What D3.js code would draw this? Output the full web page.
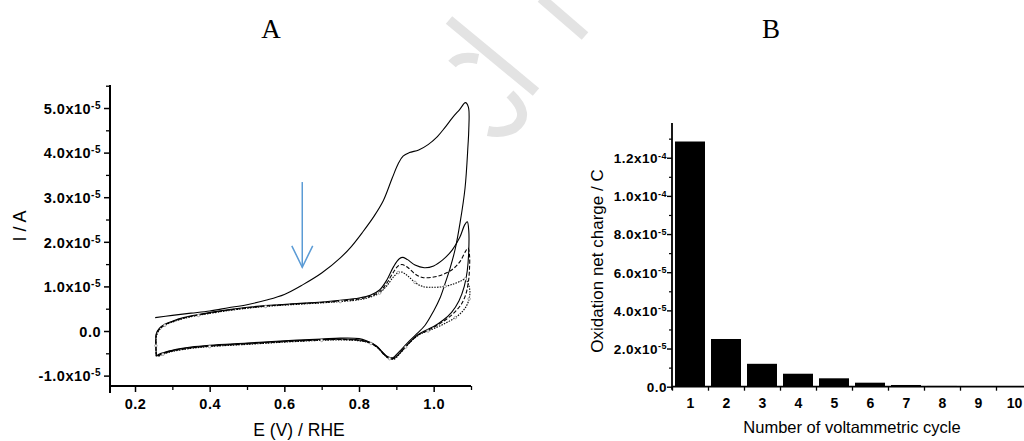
<!DOCTYPE html>
<html>
<head>
<meta charset="utf-8">
<script src="https://cdn.jsdelivr.net/npm/d3@7"></script>
<style>
    body { margin: 0; background: #fff; }
    svg { display: block; font-family: "Liberation Sans", Arial, sans-serif; }
</style>
</head>
<body>
<svg id="chart" width="1024" height="441"></svg>
<script>
// ---- panel A : cyclic voltammograms, E in V, I in units of 1e-5 A ----
var cycle1 = [
    [0.254, 0.30], [0.30, 0.35], [0.35, 0.40], [0.40, 0.45], [0.45, 0.52], [0.50, 0.59], [0.55, 0.69],
    [0.60, 0.82], [0.65, 1.04], [0.70, 1.30], [0.75, 1.64], [0.78, 1.90], [0.81, 2.22], [0.84, 2.57],
    [0.865, 2.92], [0.889, 3.43], [0.905, 3.75], [0.918, 3.92], [0.935, 4.00], [0.96, 4.06], [0.985, 4.18],
    [1.01, 4.36], [1.03, 4.56], [1.05, 4.78], [1.07, 4.97], [1.085, 5.12], [1.093, 5.02], [1.094, 4.5],
    [1.092, 4.17], [1.084, 3.2], [1.071, 2.44], [1.058, 1.85], [1.044, 1.41], [1.03, 1.05], [1.017, 0.74],
    [1.0, 0.45], [0.977, 0.13], [0.955, -0.06], [0.935, -0.22], [0.915, -0.4], [0.9, -0.53], [0.89, -0.6],
    [0.876, -0.57], [0.862, -0.46], [0.846, -0.33], [0.82, -0.22], [0.80, -0.17], [0.75, -0.16], [0.70, -0.18],
    [0.60, -0.22], [0.50, -0.27], [0.40, -0.32], [0.35, -0.36], [0.30, -0.43], [0.27, -0.5], [0.257, -0.56]
];
var cycle2 = [
    [0.257, -0.55], [0.256, -0.3], [0.257, -0.06], [0.265, 0.06], [0.28, 0.15], [0.30, 0.22], [0.33, 0.30],
    [0.37, 0.37], [0.42, 0.44], [0.48, 0.51], [0.55, 0.57], [0.62, 0.61], [0.70, 0.65], [0.75, 0.69],
    [0.80, 0.74], [0.83, 0.80], [0.855, 0.92], [0.875, 1.15], [0.893, 1.45], [0.908, 1.62], [0.918, 1.65],
    [0.93, 1.60], [0.95, 1.48], [0.975, 1.42], [1.0, 1.46], [1.025, 1.60], [1.05, 1.82], [1.07, 2.1],
    [1.083, 2.38], [1.09, 2.45], [1.094, 2.25], [1.094, 1.8], [1.09, 1.35], [1.082, 1.0], [1.068, 0.68],
    [1.048, 0.42], [1.025, 0.24], [1.0, 0.1], [0.975, 0.0], [0.955, -0.1], [0.935, -0.26], [0.915, -0.44],
    [0.9, -0.57], [0.89, -0.62], [0.878, -0.6], [0.864, -0.5], [0.85, -0.37], [0.83, -0.26], [0.80, -0.2],
    [0.75, -0.18], [0.70, -0.19], [0.60, -0.23], [0.50, -0.28], [0.40, -0.33], [0.35, -0.37], [0.30, -0.44],
    [0.275, -0.5], [0.26, -0.56]
];
var cycle3 = [
    [0.257, -0.56], [0.256, -0.32], [0.257, -0.08], [0.266, 0.05], [0.28, 0.14], [0.30, 0.21], [0.33, 0.29],
    [0.37, 0.36], [0.42, 0.43], [0.48, 0.50], [0.55, 0.56], [0.62, 0.60], [0.70, 0.64], [0.75, 0.67],
    [0.80, 0.72], [0.83, 0.78], [0.855, 0.88], [0.875, 1.08], [0.893, 1.33], [0.905, 1.46], [0.915, 1.49],
    [0.93, 1.43], [0.95, 1.28], [0.97, 1.2], [1.0, 1.21], [1.025, 1.27], [1.05, 1.38], [1.07, 1.55],
    [1.085, 1.78], [1.092, 1.86], [1.096, 1.7], [1.096, 1.4], [1.093, 1.1], [1.086, 0.82], [1.074, 0.6],
    [1.056, 0.42], [1.035, 0.27], [1.01, 0.13], [0.985, 0.02], [0.96, -0.08], [0.94, -0.22], [0.92, -0.4],
    [0.903, -0.55], [0.892, -0.62], [0.88, -0.61], [0.866, -0.52], [0.852, -0.39], [0.83, -0.27], [0.80, -0.21],
    [0.75, -0.19], [0.70, -0.2], [0.60, -0.24], [0.50, -0.29], [0.40, -0.34], [0.35, -0.38], [0.30, -0.45],
    [0.275, -0.51], [0.26, -0.57]
];
var cycle4 = [
    [0.257, -0.57], [0.256, -0.33], [0.258, -0.1], [0.267, 0.04], [0.28, 0.13], [0.30, 0.2], [0.33, 0.28],
    [0.37, 0.35], [0.42, 0.42], [0.48, 0.49], [0.55, 0.55], [0.62, 0.59], [0.70, 0.63], [0.75, 0.66],
    [0.80, 0.70], [0.83, 0.76], [0.855, 0.85], [0.875, 1.02], [0.893, 1.22], [0.905, 1.31], [0.915, 1.32],
    [0.93, 1.24], [0.95, 1.09], [0.97, 1.0], [1.0, 0.98], [1.03, 1.0], [1.055, 1.06], [1.075, 1.13],
    [1.085, 1.17], [1.093, 1.05], [1.097, 0.9], [1.095, 0.72], [1.087, 0.55], [1.075, 0.42], [1.058, 0.3],
    [1.035, 0.19], [1.01, 0.09], [0.985, 0.0], [0.962, -0.08], [0.943, -0.2], [0.925, -0.36], [0.907, -0.53],
    [0.894, -0.63], [0.882, -0.62], [0.868, -0.54], [0.854, -0.4], [0.832, -0.28], [0.80, -0.22], [0.75, -0.2],
    [0.70, -0.21], [0.60, -0.25], [0.50, -0.3], [0.40, -0.35], [0.35, -0.39], [0.30, -0.46], [0.275, -0.52],
    [0.26, -0.58]
];
var xTicksA = [0.2, 0.4, 0.6, 0.8, 1.0];
var xMinorA = [0.3, 0.5, 0.7, 0.9, 1.1];
var yTicksA = [-1, 0, 1, 2, 3, 4, 5];
var yMinorA = [-0.5, 0.5, 1.5, 2.5, 3.5, 4.5, 5.5];
var yLabelsA = [['-1.0x10', '-5'], ['0.0', ''], ['1.0x10', '-5'], ['2.0x10', '-5'], ['3.0x10', '-5'], ['4.0x10', '-5'], ['5.0x10', '-5']];
var arrowA = {e: 0.648, from: 3.34, to: 1.43, wing: 1.91, half: 0.028};

// ---- panel B : oxidation net charge per cycle, units of 1e-5 C ----
var cycles = [1, 2, 3, 4, 5, 6, 7, 8, 9, 10];
var charge = [12.85, 2.50, 1.20, 0.68, 0.44, 0.21, 0.09, 0.04, 0.012, 0.006];
var yTicksB = [0, 2, 4, 6, 8, 10, 12];
var yMinorB = [1, 3, 5, 7, 9, 11, 13];
var yLabelsB = [['0.0', ''], ['2.0x10', '-5'], ['4.0x10', '-5'], ['6.0x10', '-5'], ['8.0x10', '-5'], ['1.0x10', '-4'], ['1.2x10', '-4']];
var xEdgesB = [0.5, 1.5, 2.5, 3.5, 4.5, 5.5, 6.5, 7.5, 8.5, 9.5, 10.5];

var svg = d3.select('#chart');

// faint watermark fragments
var wm = svg.append('g').attr('fill', 'none').attr('stroke', '#e3e3e3').attr('stroke-width', 10);
wm.append('path').attr('d', 'M449,20 L536,92');
wm.append('path').attr('d', 'M452,64 Q460,55 478,59');
wm.append('path').attr('d', 'M510,94 Q532,115 514,128 Q502,134 488,131');
wm.append('path').attr('d', 'M541,-2 L585,36');

function styleAxis(g, w) {
    g.select('.domain').remove();
    g.selectAll('.tick line').attr('stroke', '#000').attr('stroke-width', w);
}

function yLabels(g, labels, size, supSize, dx) {
    g.selectAll('.tick text').remove();
    var t = g.selectAll('.tick').append('text')
        .attr('x', dx)
        .attr('dy', '0.36em')
        .attr('text-anchor', 'end')
        .attr('fill', '#000')
        .style('font-weight', 700)
        .style('font-size', size + 'px')
        .style('letter-spacing', '0.5px');
    t.append('tspan').text(function (d, i) { return labels[i][0]; });
    t.append('tspan').attr('dy', '-0.5em').style('font-size', supSize + 'px')
        .text(function (d, i) { return labels[i][1]; });
}

// ================= panel A =================
var xA = d3.scaleLinear().domain([0.133, 1.1]).range([110, 471]);
var yA = d3.scaleLinear().domain([-1.233, 5.516]).range([386, 85]);
var gA = svg.append('g');

var axA = gA.append('g').attr('transform', 'translate(0,' + yA.range()[0] + ')')
    .call(d3.axisBottom(xA).tickValues(xTicksA).tickSize(6).tickFormat(d3.format('.1f')));
styleAxis(axA, 1.5);
axA.selectAll('.tick text').attr('y', 13).attr('fill', '#000')
    .style('font-weight', 700).style('font-size', '14.5px').style('letter-spacing', '0.5px');
styleAxis(gA.append('g').attr('transform', 'translate(0,' + yA.range()[0] + ')')
    .call(d3.axisBottom(xA).tickValues(xMinorA).tickSize(4).tickFormat('')), 1.3);

var ayA = gA.append('g').attr('transform', 'translate(' + xA.range()[0] + ',0)')
    .call(d3.axisLeft(yA).tickValues(yTicksA).tickSize(6));
styleAxis(ayA, 1.5);
yLabels(ayA, yLabelsA, 14.5, 10, -9);
styleAxis(gA.append('g').attr('transform', 'translate(' + xA.range()[0] + ',0)')
    .call(d3.axisLeft(yA).tickValues(yMinorA).tickSize(4).tickFormat('')), 1.3);

gA.append('line').attr('x1', xA.range()[0]).attr('x2', xA.range()[1])
    .attr('y1', yA.range()[0]).attr('y2', yA.range()[0]).attr('stroke', '#000').attr('stroke-width', 2);
gA.append('line').attr('x1', xA.range()[0]).attr('x2', xA.range()[0])
    .attr('y1', yA.range()[1]).attr('y2', yA.range()[0] + 7).attr('stroke', '#000').attr('stroke-width', 2);

var lineA = d3.line().x(function (d) { return xA(d[0]); }).y(function (d) { return yA(d[1]); })
    .curve(d3.curveCatmullRom.alpha(0.5));

var curvesA = [
    {pts: cycle1, dash: null, w: 1.1},
    {pts: cycle2, dash: null, w: 1.1},
    {pts: cycle3, dash: '4,2', w: 1.1},
    {pts: cycle4, dash: '1.5,1.2', w: 1.1}
];
gA.selectAll('path.cv').data(curvesA).enter().append('path')
    .attr('class', 'cv')
    .attr('d', function (d) { return lineA(d.pts); })
    .attr('fill', 'none')
    .attr('stroke', '#000')
    .attr('stroke-width', function (d) { return d.w; })
    .attr('stroke-dasharray', function (d) { return d.dash; });

gA.selectAll('circle.mk').data(cycle4.filter(function (d, i) { return i % 3 === 1; })).enter()
    .append('circle').attr('class', 'mk')
    .attr('cx', function (d) { return xA(d[0]); })
    .attr('cy', function (d) { return yA(d[1]); })
    .attr('r', 1.3).attr('fill', '#fff').attr('stroke', '#777').attr('stroke-width', 0.6);

// blue arrow
var arrow = gA.append('g').attr('stroke', '#5b9bd5').attr('stroke-width', 1.5).attr('fill', 'none');
arrow.append('line').attr('x1', xA(arrowA.e)).attr('x2', xA(arrowA.e))
    .attr('y1', yA(arrowA.from)).attr('y2', yA(arrowA.to));
arrow.append('path').attr('d', d3.line()([
    [xA(arrowA.e - arrowA.half), yA(arrowA.wing)],
    [xA(arrowA.e), yA(arrowA.to)],
    [xA(arrowA.e + arrowA.half), yA(arrowA.wing)]
]));

gA.append('text').attr('x', 271).attr('y', 38).attr('text-anchor', 'middle')
    .style('font-family', '"Liberation Serif", "Times New Roman", serif').style('font-size', '27px').text('A');
gA.append('text').attr('transform', 'translate(26,226) rotate(-90)').attr('text-anchor', 'middle')
    .style('font-size', '18px').text('I / A');
gA.append('text').attr('x', 299).attr('y', 436).attr('text-anchor', 'middle')
    .style('font-size', '17.5px').text('E (V) / RHE');

// ================= panel B =================
var xB = d3.scaleLinear().domain([0.5, 10.5]).range([672, 1032]);
var yB = d3.scaleLinear().domain([0, 13.82]).range([386.7, 123]);
var gB = svg.append('g');
var barW = xB(1.833) - xB(1);

gB.selectAll('rect').data(charge).enter().append('rect')
    .attr('x', function (d, i) { return xB(cycles[i]) - barW / 2; })
    .attr('width', barW)
    .attr('y', function (d) { return yB(d); })
    .attr('height', function (d) { return yB(0) - yB(d); })
    .attr('fill', '#000');

var axB = gB.append('g').attr('transform', 'translate(0,' + yB.range()[0] + ')')
    .call(d3.axisBottom(xB).tickValues(cycles).tickSize(0).tickFormat(d3.format('d')));
axB.select('.domain').remove();
axB.selectAll('.tick text').attr('y', 11).attr('fill', '#000')
    .style('font-weight', 700).style('font-size', '14px');
styleAxis(gB.append('g').attr('transform', 'translate(0,' + yB.range()[0] + ')')
    .call(d3.axisBottom(xB).tickValues(xEdgesB).tickSize(4).tickFormat('')), 1.3);

var ayB = gB.append('g').attr('transform', 'translate(' + xB.range()[0] + ',0)')
    .call(d3.axisLeft(yB).tickValues(yTicksB).tickSize(5));
styleAxis(ayB, 1.4);
yLabels(ayB, yLabelsB, 13.5, 9, -5);
styleAxis(gB.append('g').attr('transform', 'translate(' + xB.range()[0] + ',0)')
    .call(d3.axisLeft(yB).tickValues(yMinorB).tickSize(3).tickFormat('')), 1.2);

gB.append('line').attr('x1', xB.range()[0]).attr('x2', xB.range()[1])
    .attr('y1', yB.range()[0]).attr('y2', yB.range()[0]).attr('stroke', '#000').attr('stroke-width', 1.8);
gB.append('line').attr('x1', xB.range()[0]).attr('x2', xB.range()[0])
    .attr('y1', yB.range()[1]).attr('y2', yB.range()[0] + 3).attr('stroke', '#000').attr('stroke-width', 1.8);

gB.append('text').attr('x', 771).attr('y', 38).attr('text-anchor', 'middle')
    .style('font-family', '"Liberation Serif", "Times New Roman", serif').style('font-size', '27px').text('B');
gB.append('text').attr('transform', 'translate(603,261) rotate(-90)').attr('text-anchor', 'middle')
    .style('font-size', '17px').text('Oxidation net charge / C');
gB.append('text').attr('x', 852).attr('y', 433).attr('text-anchor', 'middle')
    .style('font-size', '16.5px').text('Number of voltammetric cycle');
</script>
</body>
</html>
